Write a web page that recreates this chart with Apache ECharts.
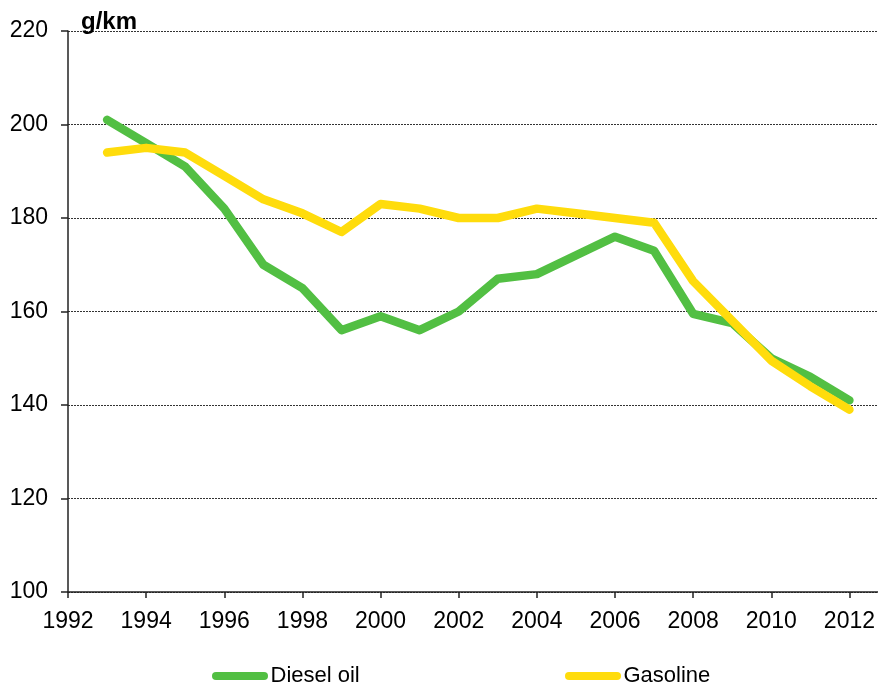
<!DOCTYPE html>
<html>
<head>
<meta charset="utf-8">
<script src="https://cdn.jsdelivr.net/npm/echarts@6/dist/echarts.min.js"></script>
<style>
  html, body { margin: 0; padding: 0; background: #fff; }
  #Co2_Chart { width: 878px; height: 687px; }
</style>
</head>
<body>
<div id="Co2_Chart"></div>
<script>
// 연도 및 계열 값
var years = [1993, 1994, 1995, 1996, 1997, 1998, 1999, 2000, 2001, 2002,
             2003, 2004, 2005, 2006, 2007, 2008, 2009, 2010, 2011, 2012];
var dieselOil = [201, 196, 191, 182, 170, 165, 156, 159, 156, 160,
                 167, 168, 172, 176, 173, 159.5, 157.5, 150, 146, 141];
var gasoline = [194, 195, 194, 189, 184, 181, 177, 183, 182, 180,
                180, 182, 181, 180, 179, 166.5, 158, 149.5, 144, 139];
var yTicks = [100, 120, 140, 160, 180, 200, 220];

function pairs(values) {
    return years.map(function (y, i) { return [y, values[i]]; });
}

function Co2Chart() {
    var myChart = echarts.init(document.getElementById('Co2_Chart'));
    var font = 'Liberation Sans, Arial, sans-serif';
    var pill = 'path://M4,0 H52 A4,4 0 0 1 52,8 H4 A4,4 0 0 1 4,0 Z';
    var option = {
        animation: false,
        title: {
            text: 'g/km',
            left: 81,
            top: 10,
            padding: 0,
            textStyle: { fontFamily: font, fontSize: 24, fontWeight: 'bold', color: '#000' }
        },
        legend: [{
            data: [{ name: 'Diesel oil', icon: pill }],
            left: 212,
            top: 665,
            padding: 0,
            itemWidth: 57,
            itemHeight: 8,
            itemGap: 0,
            textStyle: { fontFamily: font, fontSize: 22, color: '#000', padding: [0, 0, 0, -3] }
        }, {
            data: [{ name: 'Gasoline', icon: pill }],
            left: 565,
            top: 665,
            padding: 0,
            itemWidth: 57,
            itemHeight: 8,
            itemGap: 0,
            textStyle: { fontFamily: font, fontSize: 22, color: '#000', padding: [0, 0, 0, -3] }
        }],
        grid: {
            top: 31,
            bottom: 95,
            left: 68,
            right: 0
        },
        xAxis: {
            type: 'value',
            min: 1992,
            max: 2012.72, // 오른쪽은 잘려 있음
            interval: 2,
            axisLine: { lineStyle: { color: '#222', width: 1.5 } },
            axisTick: { show: true, length: 6, lineStyle: { color: '#222', width: 1.5 } },
            axisLabel: {
                fontFamily: font, fontSize: 23, color: '#000', margin: 18,
                showMaxLabel: false,
                formatter: function (v) { return String(v); }
            },
            splitLine: { show: false }
        },
        yAxis: {
            type: 'value',
            min: yTicks[0],
            max: yTicks[yTicks.length - 1],
            interval: 20,
            axisLine: { show: true, lineStyle: { color: '#222', width: 1.5 } },
            axisTick: { show: true, length: 7, lineStyle: { color: '#222', width: 1.5 } },
            axisLabel: { fontFamily: font, fontSize: 23, color: '#000', margin: 20 },
            splitLine: { show: true, lineStyle: { color: '#333', type: [2, 1], width: 1 } }
        },
        series: [{
            name: 'Diesel oil',
            type: 'line',
            data: pairs(dieselOil),
            showSymbol: false,
            color: '#52bf43',
            lineStyle: { width: 8.5, color: '#52bf43', cap: 'round', join: 'round' }
        }, {
            name: 'Gasoline',
            type: 'line',
            data: pairs(gasoline),
            showSymbol: false,
            color: '#ffdc0c',
            lineStyle: { width: 8.5, color: '#ffdc0c', cap: 'round', join: 'round' }
        }]
    };
    myChart.setOption(option);
    window.addEventListener('resize', myChart.resize);
}

Co2Chart();
</script>
</body>
</html>
